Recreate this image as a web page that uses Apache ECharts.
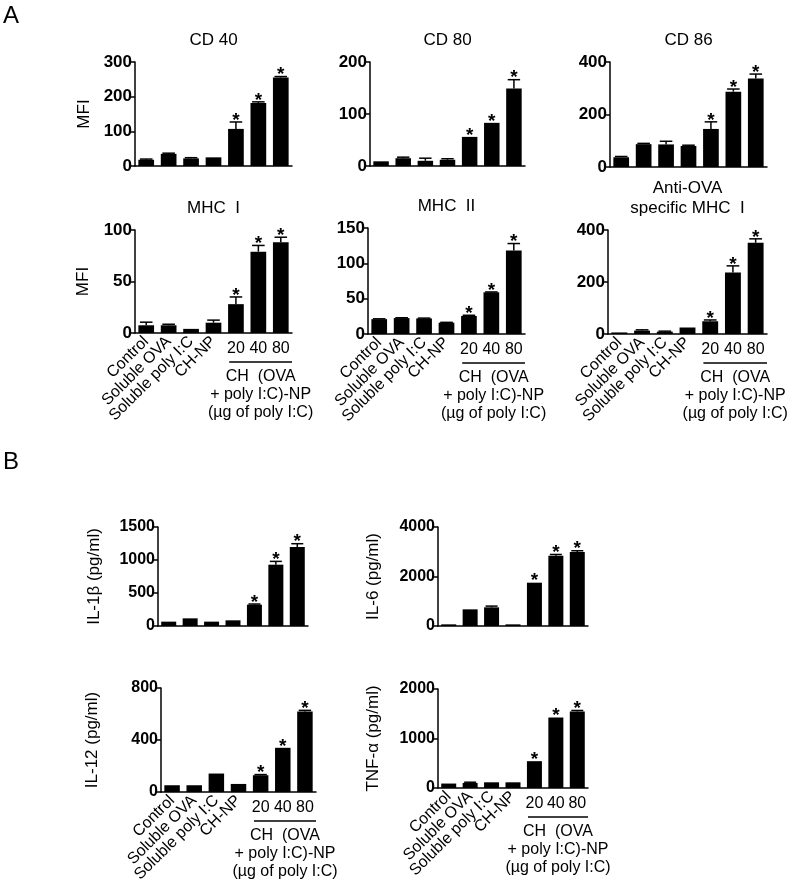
<html>

<head>
  <script src="https://cdn.jsdelivr.net/npm/echarts@6/dist/echarts.min.js"></script>
</head>

<body style="margin:0;background:#fff">
  <div id="main" style="width: 787px;height:887px;"></div>
  <script>
    // groups on the x axis
    var groups = ['Control', 'Soluble OVA', 'Soluble poly I:C', 'CH-NP', '20', '40', '80'];
    var doseLines = ['CH  (OVA', '+ poly I:C)-NP', '(µg of poly I:C)'];
    var sig = [0, 0, 0, 0, 1, 1, 1];

    // means and upper error (SD)
    var cd40Mean = [18, 35, 22, 25, 107, 182, 255];
    var cd40Err = [2, 2, 2, 0, 20, 3, 3];
    var cd80Mean = [9, 15, 10, 12, 56, 83, 149];
    var cd80Err = [0, 2, 5, 2, 0, 0, 17];
    var cd86Mean = [37, 87, 86, 80, 145, 287, 337];
    var cd86Err = [3, 3, 12, 3, 27, 10, 17];
    var mhc1Mean = [7.5, 7.5, 4, 10, 28, 79, 88];
    var mhc1Err = [3, 1, 0, 2.5, 7, 6, 5];
    var mhc2Mean = [21, 22.5, 22, 16, 25.5, 59, 118];
    var mhc2Err = [0.5, 0.5, 0.5, 0.5, 1, 0.5, 10];
    var antiOvaMean = [6, 13, 9, 25, 49, 237, 351];
    var antiOvaErr = [0, 3, 2, 0, 5, 25, 15];
    var il1bMean = [66, 116, 66, 86, 323, 929, 1197];
    var il1bErr = [0, 0, 0, 0, 10, 50, 50];
    var il6Mean = [67, 673, 754, 67, 1750, 2840, 2990];
    var il6Err = [0, 0, 50, 0, 0, 50, 50];
    var il12Mean = [52, 52, 142, 62, 129, 340, 620];
    var il12Err = [0, 0, 0, 0, 5, 0, 8];
    var tnfMean = [90, 102, 115, 115, 542, 1424, 1546];
    var tnfErr = [0, 15, 0, 0, 0, 0, 20];

    var FONT = 'Liberation Sans';

    // one entry per small chart
    var panels = [
      { title: 'CD 40', mean: cd40Mean, err: cd40Err, max: 300, step: 100, yName: 'MFI', gap: 42, box: [135, 62, 157, 104], fs: 17, labels: false },
      { title: 'CD 80', mean: cd80Mean, err: cd80Err, max: 200, step: 100, yName: '', gap: 40, box: [370, 62, 155, 104], fs: 17, labels: false },
      { title: 'CD 86', mean: cd86Mean, err: cd86Err, max: 400, step: 200, yName: '', gap: 40, box: [610, 62, 157, 105], fs: 17, labels: false },
      { title: 'MHC  I', mean: mhc1Mean, err: mhc1Err, max: 100, step: 50, yName: 'MFI', gap: 43, box: [135, 230, 157, 103], fs: 17, labels: true },
      { title: 'MHC  II', mean: mhc2Mean, err: mhc2Err, max: 150, step: 50, yName: '', gap: 40, box: [368, 228, 157, 106], fs: 17, labels: true },
      { title: 'Anti-OVA\nspecific MHC  I', mean: antiOvaMean, err: antiOvaErr, max: 400, step: 200, yName: '', gap: 40, box: [608, 230, 159, 104], fs: 17, labels: true },
      { title: '', mean: il1bMean, err: il1bErr, max: 1500, step: 500, yName: 'IL-1β (pg/ml)', gap: 55, box: [158, 527, 150, 99], fs: 16, labels: false },
      { title: '', mean: il6Mean, err: il6Err, max: 4000, step: 2000, yName: 'IL-6 (pg/ml)', gap: 56, box: [438, 527, 150, 99], fs: 16, labels: false },
      { title: '', mean: il12Mean, err: il12Err, max: 800, step: 400, yName: 'IL-12 (pg/ml)', gap: 60, box: [161, 688, 155, 104], fs: 16, labels: true },
      { title: '', mean: tnfMean, err: tnfErr, max: 2000, step: 1000, yName: 'TNF-α (pg/ml)', gap: 56, box: [438, 689, 150, 99], fs: 16, labels: true }
    ];

    function renderErr(params, api) {
      var x = api.value(0), m = api.value(1), e = api.value(2), s = api.value(3);
      var base = api.coord([x, m]);
      var top = api.coord([x, m + e]);
      var w = api.size([1, 0])[0];
      var cap = w * 0.28;
      var kids = [];
      if (e > 0) {
        kids.push({ type: 'line', shape: { x1: base[0], y1: base[1], x2: top[0], y2: top[1] }, style: { stroke: '#000', lineWidth: 1.5 } });
        kids.push({ type: 'line', shape: { x1: top[0] - cap, y1: top[1], x2: top[0] + cap, y2: top[1] }, style: { stroke: '#000', lineWidth: 1.5 } });
      }
      if (s) {
        kids.push({ type: 'text', style: { text: '*', x: top[0], y: top[1] + 8, align: 'center', verticalAlign: 'bottom', font: 'bold 19px ' + FONT, fill: '#000' } });
      }
      return { type: 'group', children: kids };
    }

    var myChart = echarts.init(document.getElementById('main'));
    var grids = [], xAxes = [], yAxes = [], seriesList = [];
    var graphics = [
      { type: 'text', left: 3, top: 4, style: { text: 'A', font: '24px ' + FONT, fill: '#000' } },
      { type: 'text', left: 3, top: 450, style: { text: 'B', font: '24px ' + FONT, fill: '#000' } }
    ];

    panels.forEach(function (p, g) {
      grids.push({ left: p.box[0], top: p.box[1], width: p.box[2], height: p.box[3] });
      var xi = xAxes.length;
      xAxes.push({
        type: 'category',
        gridIndex: g,
        data: groups,
        position: 'bottom',
        axisLine: { lineStyle: { color: '#000', width: 1.5 } },
        axisTick: { show: false },
        axisLabel: {
          show: p.labels,
          interval: 0,
          rotate: 45,
          margin: 6,
          color: '#000',
          fontFamily: FONT,
          fontSize: 16,
          formatter: function (v, i) { return i < 4 ? v : ''; }
        }
      });
      if (p.labels) {
        xAxes.push({
          type: 'category',
          gridIndex: g,
          data: groups,
          position: 'bottom',
          axisLine: { show: false },
          axisTick: { show: false },
          axisLabel: {
            interval: 0,
            margin: 8,
            color: '#000',
            fontFamily: FONT,
            fontSize: 16,
            formatter: function (v, i) { return i >= 4 ? v : ''; }
          }
        });
      }
      yAxes.push({
        type: 'value',
        gridIndex: g,
        min: 0,
        max: p.max,
        interval: p.step,
        name: p.yName,
        nameLocation: 'middle',
        nameGap: p.gap,
        nameTextStyle: { color: '#000', fontFamily: FONT, fontSize: 17 },
        splitLine: { show: false },
        axisLine: { show: true, lineStyle: { color: '#000', width: 1.5 } },
        axisTick: { show: true, length: 4, lineStyle: { color: '#000', width: 1.5 } },
        axisLabel: {
          color: '#000', fontFamily: FONT, fontWeight: 'bold', fontSize: p.fs, margin: 3,
          formatter: function (v) { return String(v); }
        }
      });
      seriesList.push({
        type: 'bar',
        xAxisIndex: xi,
        yAxisIndex: g,
        barWidth: '70%',
        itemStyle: { color: '#000' },
        data: p.mean
      });
      seriesList.push({
        type: 'custom',
        xAxisIndex: xi,
        yAxisIndex: g,
        z: 5,
        renderItem: renderErr,
        data: p.mean.map(function (m, i) { return [i, m, p.err[i], sig[i]]; })
      });
      if (p.title) {
        var cx = p.box[0] + p.box[2] / 2;
        graphics.push({ type: 'text', x: cx, y: p.box[1] - 12, style: { text: p.title, align: 'center', verticalAlign: 'bottom', lineHeight: 20, font: '17px ' + FONT, fill: '#000' } });
      }
    });

    option = {
      animation: false,
      backgroundColor: '#fff',
      grid: grids,
      xAxis: xAxes,
      yAxis: yAxes,
      series: seriesList,
      graphic: graphics
    };
    myChart.setOption(option);

    // bracket line and group text under the 20 / 40 / 80 bars
    panels.forEach(function (p, g) {
      if (!p.labels) return;
      var a = myChart.convertToPixel({ gridIndex: g }, [4, 0]);
      var b = myChart.convertToPixel({ gridIndex: g }, [5, 0]);
      var c = myChart.convertToPixel({ gridIndex: g }, [6, 0]);
      var band = c[0] - b[0];
      var x1 = a[0] - band * 0.3, x2 = c[0] + band * 0.5;
      var mid = (x1 + x2) / 2;
      graphics.push({ type: 'line', shape: { x1: x1, y1: a[1] + 29, x2: x2, y2: a[1] + 29 }, style: { stroke: '#000', lineWidth: 1.5 } });
      doseLines.forEach(function (t, k) {
        graphics.push({ type: 'text', x: mid, y: a[1] + 44 + k * 18, style: { text: t, align: 'center', verticalAlign: 'middle', font: '16px ' + FONT, fill: '#000' } });
      });
    });
    myChart.setOption({ graphic: graphics });

  </script>
</body>

</html>
